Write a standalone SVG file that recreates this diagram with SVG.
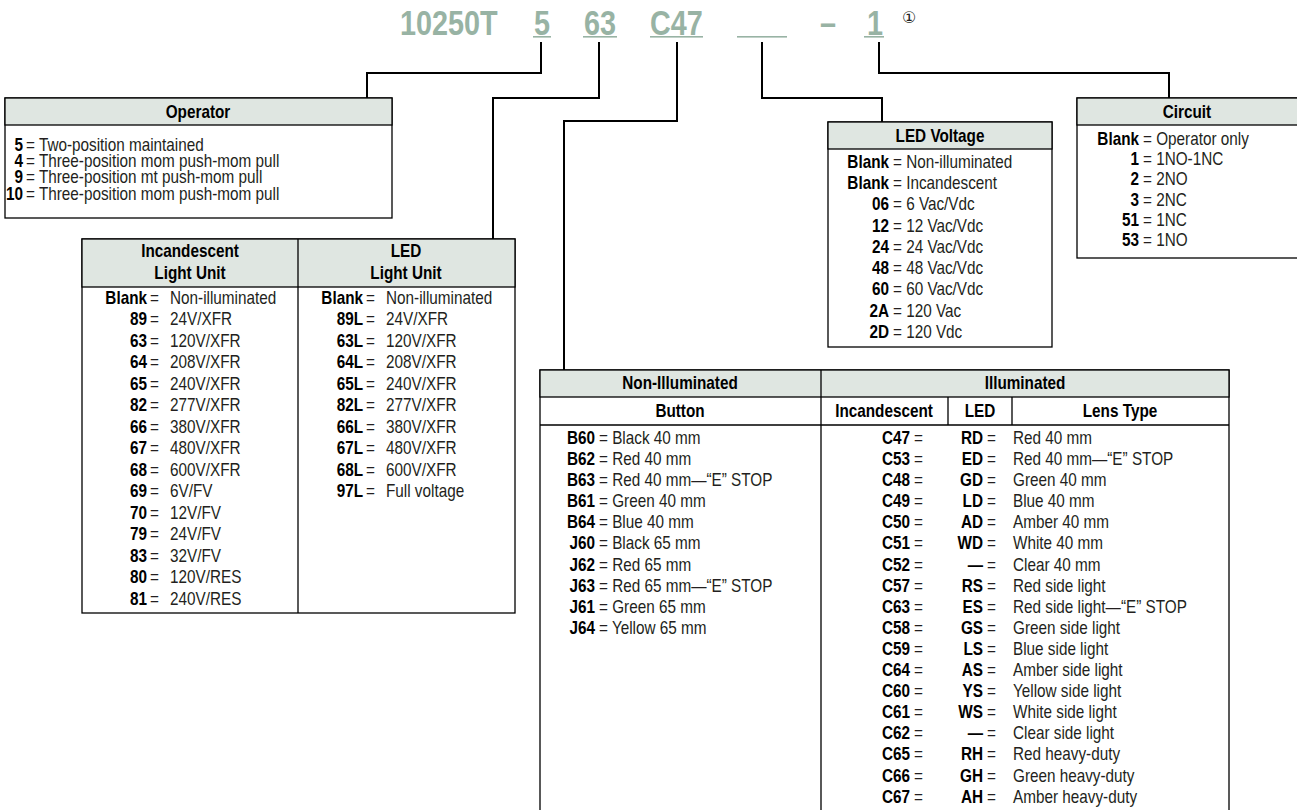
<svg xmlns="http://www.w3.org/2000/svg" width="1297" height="810" viewBox="0 0 1297 810">
<style>
.t{font-family:'Liberation Sans',Arial,sans-serif;font-size:18px;fill:#231f20}
.b{font-weight:bold;fill:#000}
.e{text-anchor:end}
.m{text-anchor:middle}
.hdr{fill:#dfe6e1;stroke:#000;stroke-width:1.3}
.box{fill:#fff;stroke:#000;stroke-width:1.3}
.ln{fill:none;stroke:#000;stroke-width:1.3}
.conn{fill:none;stroke:#000;stroke-width:2}
.ttl{font-family:'Liberation Sans',Arial,sans-serif;font-weight:bold;font-size:36px;fill:#98b3a4}
.ul{fill:#98b3a4}
</style>
<rect width="1297" height="810" fill="#fff"/>

<g id="title">
<g class="ttl" transform="translate(400 35) scale(.8 1)"><text x="0" y="0">10250T</text></g>
<g class="ttl" transform="translate(534 35) scale(.8 1)"><text x="0" y="0">5</text></g>
<g class="ttl" transform="translate(584 35) scale(.8 1)"><text x="0" y="0">63</text></g>
<g class="ttl" transform="translate(650 35) scale(.8 1)"><text x="0" y="0">C47</text></g>
<g class="ttl m" transform="translate(828 35) scale(.8 1)"><text x="0" y="0">–</text></g>
<g class="ttl" transform="translate(867 35) scale(.8 1)"><text x="0" y="0">1</text></g>
<rect class="ul" x="533" y="36" width="18" height="1.6"/>
<rect class="ul" x="583" y="36" width="34" height="1.6"/>
<rect class="ul" x="650" y="36" width="53" height="1.6"/>
<rect class="ul" x="737" y="36" width="50" height="1.6"/>
<rect class="ul" x="864" y="36" width="20" height="1.6"/>
<text x="902" y="23" style="font-family:'DejaVu Sans','Noto Sans CJK SC',sans-serif;font-size:16px;fill:#231f20">①</text>
</g>

<g id="connectors">
<path class="conn" d="M541 42V73H367V98"/>
<path class="conn" d="M599 42V98H493V239"/>
<path class="conn" d="M677 42V121H564V370"/>
<path class="conn" d="M762 42V98H882V122"/>
<path class="conn" d="M879 42V73H1169V98"/>
</g>

<g id="operator">
<rect class="box" x="5" y="98" width="387" height="120"/>
<rect class="hdr" x="5" y="98" width="387" height="27"/>
<g class="t b m" transform="translate(198 0) scale(.85 1)"><text x="0" y="118">Operator</text></g>
<g class="t b e" transform="translate(23 0) scale(.85 1)">
<text x="0" y="151">5</text><text x="0" y="167">4</text><text x="0" y="183">9</text><text x="0" y="200">10</text>
</g>
<g class="t" transform="translate(26 0) scale(.85 1)">
<text x="0" y="151">= Two-position maintained</text>
<text x="0" y="167">= Three-position mom push-mom pull</text>
<text x="0" y="183">= Three-position mt push-mom pull</text>
<text x="0" y="200">= Three-position mom push-mom pull</text>
</g>
</g>

<g id="light-unit">
<rect class="box" x="82" y="239" width="433" height="374"/>
<rect class="hdr" x="82" y="239" width="433" height="48"/>
<path class="ln" d="M298 239V613"/>
<g class="t b m" transform="translate(190 0) scale(.85 1)"><text x="0" y="257">Incandescent</text><text x="0" y="279">Light Unit</text></g>
<g class="t b m" transform="translate(406 0) scale(.85 1)"><text x="0" y="257">LED</text><text x="0" y="279">Light Unit</text></g>
<g class="t b e" transform="translate(147 0) scale(.85 1)">
<text x="0" y="304">Blank</text><text x="0" y="325.5">89</text><text x="0" y="347">63</text><text x="0" y="368.5">64</text><text x="0" y="390">65</text><text x="0" y="411.5">82</text><text x="0" y="433">66</text><text x="0" y="454.5">67</text><text x="0" y="476">68</text><text x="0" y="497.5">69</text><text x="0" y="519">70</text><text x="0" y="540.5">79</text><text x="0" y="562">83</text><text x="0" y="583.5">80</text><text x="0" y="605">81</text>
</g>
<g class="t" transform="translate(150 0) scale(.85 1)">
<text x="0" y="304">=</text><text x="0" y="325.5">=</text><text x="0" y="347">=</text><text x="0" y="368.5">=</text><text x="0" y="390">=</text><text x="0" y="411.5">=</text><text x="0" y="433">=</text><text x="0" y="454.5">=</text><text x="0" y="476">=</text><text x="0" y="497.5">=</text><text x="0" y="519">=</text><text x="0" y="540.5">=</text><text x="0" y="562">=</text><text x="0" y="583.5">=</text><text x="0" y="605">=</text>
</g>
<g class="t" transform="translate(170 0) scale(.85 1)">
<text x="0" y="304">Non-illuminated</text><text x="0" y="325.5">24V/XFR</text><text x="0" y="347">120V/XFR</text><text x="0" y="368.5">208V/XFR</text><text x="0" y="390">240V/XFR</text><text x="0" y="411.5">277V/XFR</text><text x="0" y="433">380V/XFR</text><text x="0" y="454.5">480V/XFR</text><text x="0" y="476">600V/XFR</text><text x="0" y="497.5">6V/FV</text><text x="0" y="519">12V/FV</text><text x="0" y="540.5">24V/FV</text><text x="0" y="562">32V/FV</text><text x="0" y="583.5">120V/RES</text><text x="0" y="605">240V/RES</text>
</g>
<g class="t b e" transform="translate(363 0) scale(.85 1)">
<text x="0" y="304">Blank</text><text x="0" y="325.5">89L</text><text x="0" y="347">63L</text><text x="0" y="368.5">64L</text><text x="0" y="390">65L</text><text x="0" y="411.5">82L</text><text x="0" y="433">66L</text><text x="0" y="454.5">67L</text><text x="0" y="476">68L</text><text x="0" y="497.5">97L</text>
</g>
<g class="t" transform="translate(366 0) scale(.85 1)">
<text x="0" y="304">=</text><text x="0" y="325.5">=</text><text x="0" y="347">=</text><text x="0" y="368.5">=</text><text x="0" y="390">=</text><text x="0" y="411.5">=</text><text x="0" y="433">=</text><text x="0" y="454.5">=</text><text x="0" y="476">=</text><text x="0" y="497.5">=</text>
</g>
<g class="t" transform="translate(386 0) scale(.85 1)">
<text x="0" y="304">Non-illuminated</text><text x="0" y="325.5">24V/XFR</text><text x="0" y="347">120V/XFR</text><text x="0" y="368.5">208V/XFR</text><text x="0" y="390">240V/XFR</text><text x="0" y="411.5">277V/XFR</text><text x="0" y="433">380V/XFR</text><text x="0" y="454.5">480V/XFR</text><text x="0" y="476">600V/XFR</text><text x="0" y="497.5">Full voltage</text>
</g>
</g>

<g id="led-voltage">
<rect class="box" x="828" y="122" width="224" height="225"/>
<rect class="hdr" x="828" y="122" width="224" height="27"/>
<g class="t b m" transform="translate(940 0) scale(.85 1)"><text x="0" y="142">LED Voltage</text></g>
<g class="t b e" transform="translate(889 0) scale(.85 1)">
<text x="0" y="168">Blank</text><text x="0" y="189.25">Blank</text><text x="0" y="210.5">06</text><text x="0" y="231.75">12</text><text x="0" y="253">24</text><text x="0" y="274.25">48</text><text x="0" y="295.5">60</text><text x="0" y="316.75">2A</text><text x="0" y="338">2D</text>
</g>
<g class="t" transform="translate(893 0) scale(.85 1)">
<text x="0" y="168">= Non-illuminated</text><text x="0" y="189.25">= Incandescent</text><text x="0" y="210.5">= 6 Vac/Vdc</text><text x="0" y="231.75">= 12 Vac/Vdc</text><text x="0" y="253">= 24 Vac/Vdc</text><text x="0" y="274.25">= 48 Vac/Vdc</text><text x="0" y="295.5">= 60 Vac/Vdc</text><text x="0" y="316.75">= 120 Vac</text><text x="0" y="338">= 120 Vdc</text>
</g>
</g>

<g id="circuit">
<rect class="box" x="1077" y="98" width="240" height="160"/>
<rect class="hdr" x="1077" y="98" width="240" height="27"/>
<g class="t b m" transform="translate(1187 0) scale(.85 1)"><text x="0" y="118">Circuit</text></g>
<g class="t b e" transform="translate(1139 0) scale(.85 1)">
<text x="0" y="145">Blank</text><text x="0" y="165.2">1</text><text x="0" y="185.4">2</text><text x="0" y="205.6">3</text><text x="0" y="225.8">51</text><text x="0" y="246">53</text>
</g>
<g class="t" transform="translate(1143 0) scale(.85 1)">
<text x="0" y="145">= Operator only</text><text x="0" y="165.2">= 1NO-1NC</text><text x="0" y="185.4">= 2NO</text><text x="0" y="205.6">= 2NC</text><text x="0" y="225.8">= 1NC</text><text x="0" y="246">= 1NO</text>
</g>
</g>

<g id="button-lens">
<rect class="box" x="540" y="370" width="689" height="450"/>
<rect class="hdr" x="540" y="370" width="689" height="27"/>
<path class="ln" d="M540 425H1229M821 370V820M948 397V425M1012 397V425"/>
<g class="t b m" transform="translate(680 0) scale(.85 1)"><text x="0" y="389">Non-Illuminated</text><text x="0" y="417">Button</text></g>
<g class="t b m" transform="translate(1025 0) scale(.85 1)"><text x="0" y="389">Illuminated</text></g>
<g class="t b m" transform="translate(884 0) scale(.85 1)"><text x="0" y="417">Incandescent</text></g>
<g class="t b m" transform="translate(980 0) scale(.85 1)"><text x="0" y="417">LED</text></g>
<g class="t b m" transform="translate(1120 0) scale(.85 1)"><text x="0" y="417">Lens Type</text></g>
<g class="t b e" transform="translate(595 0) scale(.85 1)">
<text x="0" y="444">B60</text><text x="0" y="465.1">B62</text><text x="0" y="486.2">B63</text><text x="0" y="507.3">B61</text><text x="0" y="528.4">B64</text><text x="0" y="549.5">J60</text><text x="0" y="570.6">J62</text><text x="0" y="591.7">J63</text><text x="0" y="612.8">J61</text><text x="0" y="633.9">J64</text>
</g>
<g class="t" transform="translate(599 0) scale(.85 1)">
<text x="0" y="444">= Black 40 mm</text><text x="0" y="465.1">= Red 40 mm</text><text x="0" y="486.2">= Red 40 mm—“E” STOP</text><text x="0" y="507.3">= Green 40 mm</text><text x="0" y="528.4">= Blue 40 mm</text><text x="0" y="549.5">= Black 65 mm</text><text x="0" y="570.6">= Red 65 mm</text><text x="0" y="591.7">= Red 65 mm—“E” STOP</text><text x="0" y="612.8">= Green 65 mm</text><text x="0" y="633.9">= Yellow 65 mm</text>
</g>
<g class="t b e" transform="translate(910 0) scale(.85 1)">
<text x="0" y="444">C47</text><text x="0" y="465.1">C53</text><text x="0" y="486.2">C48</text><text x="0" y="507.3">C49</text><text x="0" y="528.4">C50</text><text x="0" y="549.5">C51</text><text x="0" y="570.6">C52</text><text x="0" y="591.7">C57</text><text x="0" y="612.8">C63</text><text x="0" y="633.9">C58</text><text x="0" y="655">C59</text><text x="0" y="676.1">C64</text><text x="0" y="697.2">C60</text><text x="0" y="718.3">C61</text><text x="0" y="739.4">C62</text><text x="0" y="760.5">C65</text><text x="0" y="781.6">C66</text><text x="0" y="802.7">C67</text>
</g>
<g class="t" transform="translate(914 0) scale(.85 1)">
<text x="0" y="444">=</text><text x="0" y="465.1">=</text><text x="0" y="486.2">=</text><text x="0" y="507.3">=</text><text x="0" y="528.4">=</text><text x="0" y="549.5">=</text><text x="0" y="570.6">=</text><text x="0" y="591.7">=</text><text x="0" y="612.8">=</text><text x="0" y="633.9">=</text><text x="0" y="655">=</text><text x="0" y="676.1">=</text><text x="0" y="697.2">=</text><text x="0" y="718.3">=</text><text x="0" y="739.4">=</text><text x="0" y="760.5">=</text><text x="0" y="781.6">=</text><text x="0" y="802.7">=</text>
</g>
<g class="t b e" transform="translate(983 0) scale(.85 1)">
<text x="0" y="444">RD</text><text x="0" y="465.1">ED</text><text x="0" y="486.2">GD</text><text x="0" y="507.3">LD</text><text x="0" y="528.4">AD</text><text x="0" y="549.5">WD</text><text x="0" y="570.6">—</text><text x="0" y="591.7">RS</text><text x="0" y="612.8">ES</text><text x="0" y="633.9">GS</text><text x="0" y="655">LS</text><text x="0" y="676.1">AS</text><text x="0" y="697.2">YS</text><text x="0" y="718.3">WS</text><text x="0" y="739.4">—</text><text x="0" y="760.5">RH</text><text x="0" y="781.6">GH</text><text x="0" y="802.7">AH</text>
</g>
<g class="t" transform="translate(987 0) scale(.85 1)">
<text x="0" y="444">=</text><text x="0" y="465.1">=</text><text x="0" y="486.2">=</text><text x="0" y="507.3">=</text><text x="0" y="528.4">=</text><text x="0" y="549.5">=</text><text x="0" y="570.6">=</text><text x="0" y="591.7">=</text><text x="0" y="612.8">=</text><text x="0" y="633.9">=</text><text x="0" y="655">=</text><text x="0" y="676.1">=</text><text x="0" y="697.2">=</text><text x="0" y="718.3">=</text><text x="0" y="739.4">=</text><text x="0" y="760.5">=</text><text x="0" y="781.6">=</text><text x="0" y="802.7">=</text>
</g>
<g class="t" transform="translate(1013 0) scale(.85 1)">
<text x="0" y="444">Red 40 mm</text><text x="0" y="465.1">Red 40 mm—“E” STOP</text><text x="0" y="486.2">Green 40 mm</text><text x="0" y="507.3">Blue 40 mm</text><text x="0" y="528.4">Amber 40 mm</text><text x="0" y="549.5">White 40 mm</text><text x="0" y="570.6">Clear 40 mm</text><text x="0" y="591.7">Red side light</text><text x="0" y="612.8">Red side light—“E” STOP</text><text x="0" y="633.9">Green side light</text><text x="0" y="655">Blue side light</text><text x="0" y="676.1">Amber side light</text><text x="0" y="697.2">Yellow side light</text><text x="0" y="718.3">White side light</text><text x="0" y="739.4">Clear side light</text><text x="0" y="760.5">Red heavy-duty</text><text x="0" y="781.6">Green heavy-duty</text><text x="0" y="802.7">Amber heavy-duty</text>
</g>
</g>
</svg>
